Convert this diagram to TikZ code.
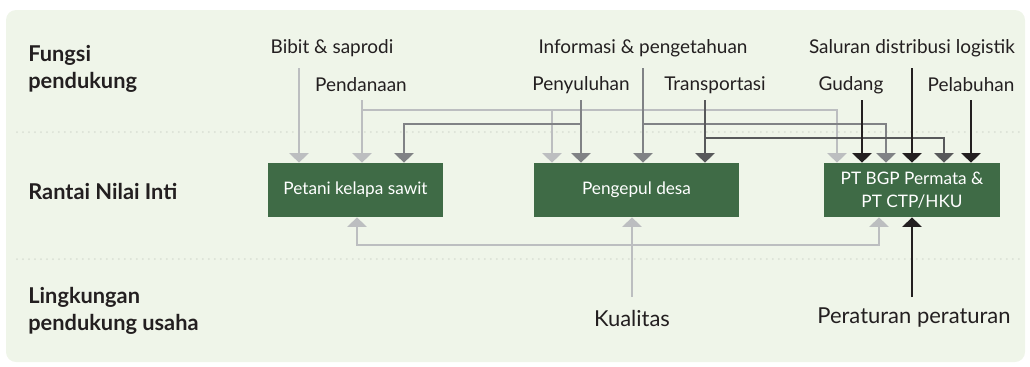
\documentclass[tikz,border=0pt]{standalone}
\usepackage{fontspec}
\setmainfont{Lato}
\usetikzlibrary{arrows.meta}
\definecolor{bggreen}{HTML}{EFF5E9}
\definecolor{boxgreen}{HTML}{3F6B46}
\definecolor{dotgray}{HTML}{D9DFD4}
\definecolor{txtdark}{HTML}{231F20}
\definecolor{lgray}{HTML}{BCBEC0}
\definecolor{mgray}{HTML}{808285}
\definecolor{dgray}{HTML}{58595B}
\definecolor{blk}{HTML}{231F20}

\tikzset{
  chainbox/.style={fill=boxgreen, text=white, inner sep=0pt, minimum height=1.08cm, align=center, font=\fontsize{9.8}{13}\selectfont},
  rowlabel/.style={anchor=west, align=left, inner sep=0pt, font=\fontsize{12.4}{15.3}\selectfont\bfseries},
  envlabel/.style={font=\fontsize{12.5}{15}\selectfont},
  flow/.style={line width=0.046cm, -{Triangle[width=0.38cm,length=0.19cm]}},
  sepline/.style={dotgray, line width=0.04cm, line cap=round, dash pattern=on 0pt off 0.12cm}
}

\begin{document}
\begin{tikzpicture}[x=0.02cm, y=-0.02cm, font=\fontsize{10.8}{13}\selectfont, text=txtdark]
    \useasboundingbox (0,0) rectangle (1030,366);
    \fill [bggreen, rounded corners=0.2cm] (6,10) rectangle (1025,362);

    % rows
    \draw [sepline] (17,132) -- (1020,132);
    \draw [sepline] (17,259) -- (1020,259);
    \node [rowlabel] (fungsi) at (28,68.5) {Fungsi\\pendukung};
    \node [rowlabel] (rantai) at (28,191) {Rantai Nilai Inti};
    \node [rowlabel] (lingkungan) at (28,310.5) {Lingkungan\\pendukung usaha};

    % core chain
    \node [chainbox, minimum width=3.5cm] (petani) at (355.5,190) {Petani kelapa sawit};
    \node [chainbox, minimum width=4.1cm] (pengepul) at (636.5,190) {Pengepul desa};
    \node [chainbox, minimum width=3.52cm] (ptbgp) at (912,190) {PT BGP Permata \&\\PT CTP/HKU};

    % supporting functions
    \node (bibit) at (332,48) {Bibit \& saprodi};
    \node (pendanaan) at (361,85) {Pendanaan};
    \node (info) at (643,48) {Informasi \& pengetahuan};
    \node (penyuluhan) at (581,85) {Penyuluhan};
    \node (transport) at (715,85) {Transportasi};
    \node (saluran) at (912,48) {Saluran distribusi logistik};
    \node (gudang) at (851,85) {Gudang};
    \node (pelabuhan) at (971,85) {Pelabuhan};

    \node [envlabel] (kualitas) at (632,318) {Kualitas};
    \node [envlabel] (peraturan) at (914,318) {Peraturan peraturan};

    \coordinate (bibitS) at (299,68);
    \coordinate (pendS) at (362,100);
    \coordinate (penyS) at (581,100);
    \coordinate (infoS) at (643,68);
    \coordinate (transS) at (705,100);
    \coordinate (gudS) at (862,100);
    \coordinate (salS) at (912,68);
    \coordinate (pelS) at (971,100);
    \coordinate (kualS) at (632,297);
    \coordinate (perS) at (912,297);
    \coordinate (busP) at (0,110);
    \coordinate (busI) at (0,124);
    \coordinate (busT) at (0,138);
    \coordinate (busK) at (0,245);

    \draw [flow, lgray] (bibitS) -- (bibitS |- petani.north);
    \draw [flow, lgray] (pendS) -- (pendS |- petani.north);
    \draw [flow, lgray] (pendS |- busP) -| ([shift={(-84.5,0)}]pengepul.north);
    \draw [flow, lgray] (pendS |- busP) -| ([shift={(-75,0)}]ptbgp.north);

    \draw [flow, mgray] (penyS) -- (penyS |- pengepul.north);
    \draw [flow, mgray] (penyS |- busI) -| ([shift={(48.5,0)}]petani.north);
    \draw [flow, mgray] (infoS) -- (infoS |- pengepul.north);
    \draw [flow, mgray] (infoS |- busI) -| ([shift={(-26,0)}]ptbgp.north);

    \draw [flow, dgray] (transS) -- (transS |- pengepul.north);
    \draw [flow, dgray] (transS |- busT) -| ([shift={(32,0)}]ptbgp.north);

    \draw [flow, blk] (gudS) -- (gudS |- ptbgp.north);
    \draw [flow, blk] (salS) -- (salS |- ptbgp.north);
    \draw [flow, blk] (pelS) -- (pelS |- ptbgp.north);

    % enabling environment
    \draw [flow, lgray] (kualS) -- (kualS |- pengepul.south);
    \draw [flow, lgray] (kualS |- busK) -| ([shift={(1.5,0)}]petani.south);
    \draw [flow, lgray] (kualS |- busK) -| ([shift={(-33,0)}]ptbgp.south);
    \draw [flow, blk] (perS) -- (perS |- ptbgp.south);
\end{tikzpicture}
\end{document}
